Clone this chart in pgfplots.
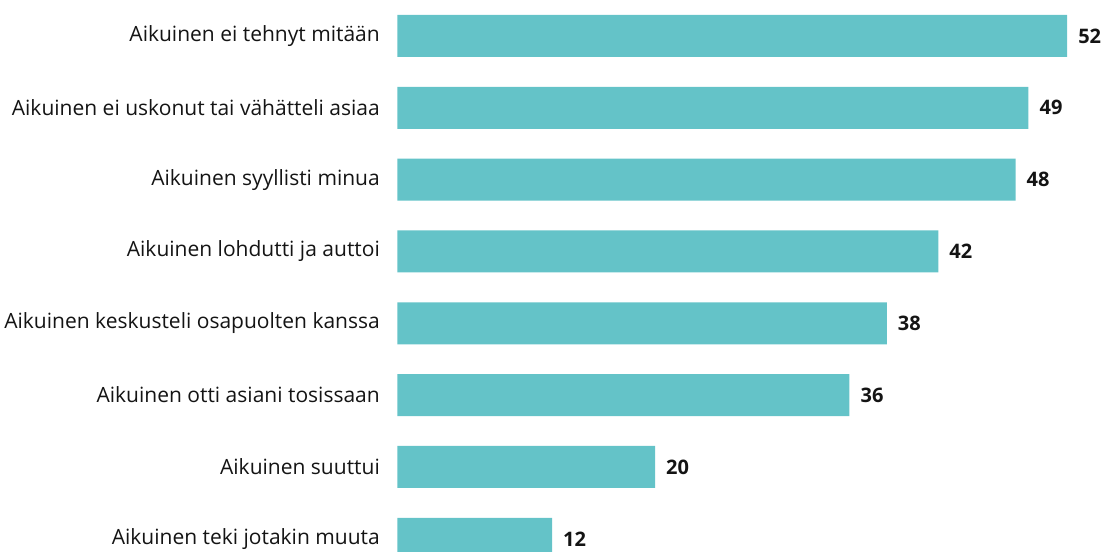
\documentclass[border=0pt]{standalone}
\usepackage{pgfplots}
\pgfplotsset{compat=1.18}
\usepackage{fontspec}
\setmainfont{Open Sans}
\definecolor{barteal}{RGB}{100,195,200}
\definecolor{txt}{RGB}{20,20,20}
\begin{document}
\begin{tikzpicture}
\begin{axis}[
  scale only axis,
  width=706.5pt, height=551pt,
  xmin=0, xmax=54.87,
  ymin=0.5, ymax=8.17,
  y dir=reverse,
  xbar, bar width=42pt, bar shift=0pt,
  axis line style={draw=none},
  major tick length=0pt,
  xtick=\empty,
  ytick={1,2,3,4,5,6,7,8},
  yticklabels={Aikuinen ei tehnyt mitään,Aikuinen ei uskonut tai vähätteli asiaa,Aikuinen syyllisti minua,Aikuinen lohdutti ja auttoi,Aikuinen keskusteli osapuolten kanssa,Aikuinen otti asiani tosissaan,Aikuinen suuttui,Aikuinen teki jotakin muuta},
  yticklabel style={anchor=east, inner sep=0pt, xshift=-17.5pt, font=\fontsize{21}{25}\selectfont, text=txt},
  point meta=explicit,
  nodes near coords={\pgfmathprintnumber[assume math mode=true]{\pgfplotspointmeta}},
  nodes near coords style={anchor=west, inner sep=0pt, xshift=11pt, font=\bfseries\fontsize{20}{24}\selectfont, text=txt},
]
\addplot[draw=none, fill=barteal] table[x=x, y=y, meta=m]{
x y m
52 1 52
49 2 49
48 3 48
42 4 42
38 5 38
35.1 6 36
20 7 20
12 8 12
};
\coordinate (c00) at (rel axis cs:0,0);
\coordinate (c11) at (rel axis cs:1,1);
\end{axis}
\pgfresetboundingbox
\path[use as bounding box] ([xshift=-397.5pt]c00) rectangle (c11);
\end{tikzpicture}
\end{document}
